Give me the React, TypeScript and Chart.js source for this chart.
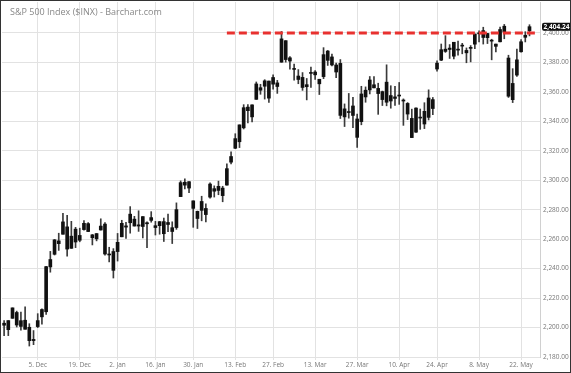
import { useEffect, useRef } from 'react';
import { Chart, registerables } from 'chart.js';

Chart.register(...registerables);

// ---- data ----
const dates = [
  '2016-11-22','2016-11-23','2016-11-25','2016-11-28','2016-11-29','2016-11-30','2016-12-01','2016-12-02',
  '2016-12-05','2016-12-06','2016-12-07','2016-12-08','2016-12-09','2016-12-12','2016-12-13','2016-12-14',
  '2016-12-15','2016-12-16','2016-12-19','2016-12-20','2016-12-21','2016-12-22','2016-12-23','2016-12-27',
  '2016-12-28','2016-12-29','2016-12-30','2017-01-03','2017-01-04','2017-01-05','2017-01-06','2017-01-09',
  '2017-01-10','2017-01-11','2017-01-12','2017-01-13','2017-01-17','2017-01-18','2017-01-19','2017-01-20',
  '2017-01-23','2017-01-24','2017-01-25','2017-01-26','2017-01-27','2017-01-30','2017-01-31','2017-02-01',
  '2017-02-02','2017-02-03','2017-02-06','2017-02-07','2017-02-08','2017-02-09','2017-02-10','2017-02-13',
  '2017-02-14','2017-02-15','2017-02-16','2017-02-17','2017-02-21','2017-02-22','2017-02-23','2017-02-24',
  '2017-02-27','2017-02-28','2017-03-01','2017-03-02','2017-03-03','2017-03-06','2017-03-07','2017-03-08',
  '2017-03-09','2017-03-10','2017-03-13','2017-03-14','2017-03-15','2017-03-16','2017-03-17','2017-03-20',
  '2017-03-21','2017-03-22','2017-03-23','2017-03-24','2017-03-27','2017-03-28','2017-03-29','2017-03-30',
  '2017-03-31','2017-04-03','2017-04-04','2017-04-05','2017-04-06','2017-04-07','2017-04-10','2017-04-11',
  '2017-04-12','2017-04-13','2017-04-17','2017-04-18','2017-04-19','2017-04-20','2017-04-21','2017-04-24',
  '2017-04-25','2017-04-26','2017-04-27','2017-04-28','2017-05-01','2017-05-02','2017-05-03','2017-05-04',
  '2017-05-05','2017-05-08','2017-05-09','2017-05-10','2017-05-11','2017-05-12','2017-05-15','2017-05-16',
  '2017-05-17','2017-05-18','2017-05-19','2017-05-22','2017-05-23','2017-05-24',
];

const opens = [
  2201.56,2198.55,2206.27,2210.21,2200.76,2204.97,2200.17,2191.12,
  2200.65,2207.26,2210.72,2241.13,2249.73,2258.83,2263.32,2268.35,
  2253.77,2266.81,2259.24,2266.50,2270.54,2262.93,2260.25,2266.23,
  2270.23,2249.50,2251.61,2251.57,2261.60,2268.18,2271.14,2273.59,
  2269.72,2268.60,2271.14,2272.74,2269.14,2269.14,2271.90,2269.96,
  2267.78,2267.88,2288.88,2298.63,2299.02,2286.01,2274.02,2285.59,
  2276.69,2288.54,2294.28,2295.87,2289.55,2296.70,2312.27,2321.72,
  2326.12,2335.58,2349.64,2343.01,2354.91,2361.11,2367.50,2355.73,
  2365.23,2366.08,2380.13,2394.75,2380.92,2375.23,2370.74,2369.81,
  2363.49,2372.52,2371.56,2368.55,2370.34,2387.71,2383.71,2378.24,
  2379.32,2343.00,2345.97,2350.42,2329.11,2339.79,2356.54,2361.31,
  2364.82,2362.34,2354.76,2366.59,2353.79,2356.59,2357.16,2353.92,
  2352.15,2341.98,2332.62,2342.53,2346.79,2342.69,2354.74,2375.50,
  2381.51,2388.98,2389.70,2393.68,2388.50,2391.05,2386.50,2389.79,
  2392.37,2399.94,2401.58,2396.79,2394.84,2392.44,2393.98,2404.55,
  2382.95,2354.69,2371.37,2387.21,2397.04,2401.41,
];

const highs = [
  2204.80,2204.72,2213.35,2211.14,2210.46,2214.10,2202.60,2197.95,
  2209.42,2212.78,2241.63,2251.69,2259.80,2264.03,2277.53,2276.20,
  2272.12,2268.05,2267.47,2272.56,2271.23,2263.18,2263.79,2273.82,
  2271.31,2254.51,2253.58,2263.88,2272.82,2271.50,2282.10,2275.49,
  2279.27,2275.32,2271.78,2278.68,2272.08,2272.01,2274.33,2276.96,
  2271.78,2284.63,2299.55,2300.99,2299.02,2286.01,2279.09,2289.14,
  2283.97,2298.31,2296.18,2299.40,2295.91,2311.08,2319.23,2331.58,
  2337.58,2351.30,2351.31,2351.16,2366.71,2365.13,2368.26,2367.34,
  2371.54,2367.79,2400.98,2394.75,2383.89,2378.80,2375.12,2373.09,
  2369.08,2376.86,2374.42,2368.55,2390.01,2388.10,2385.71,2379.55,
  2381.93,2351.81,2358.92,2356.22,2344.90,2363.78,2363.36,2370.42,
  2370.35,2365.87,2360.53,2378.36,2364.16,2363.76,2366.37,2355.22,
  2352.72,2348.26,2349.14,2348.35,2352.63,2361.37,2356.18,2381.00,
  2392.48,2398.16,2392.10,2393.68,2394.49,2392.93,2389.82,2391.43,
  2399.29,2401.36,2403.87,2399.74,2395.72,2392.44,2404.05,2405.77,
  2384.87,2375.74,2389.06,2395.46,2400.85,2405.58,
];

const lows = [
  2194.51,2194.51,2206.27,2200.36,2198.15,2198.81,2187.44,2188.37,
  2199.97,2202.21,2208.93,2237.57,2249.23,2252.37,2263.32,2248.44,
  2253.77,2254.24,2258.21,2266.14,2265.15,2256.08,2258.84,2266.15,
  2249.11,2244.56,2233.62,2245.13,2261.60,2260.45,2264.06,2268.90,
  2265.27,2260.83,2254.25,2271.51,2262.81,2263.35,2258.41,2265.01,
  2257.02,2266.68,2288.88,2294.08,2291.62,2268.04,2267.21,2272.44,
  2271.65,2287.88,2288.57,2290.16,2285.38,2296.61,2311.10,2321.42,
  2322.17,2334.81,2338.87,2339.58,2354.91,2358.34,2355.09,2352.87,
  2361.87,2358.96,2380.13,2380.17,2375.39,2367.98,2365.51,2361.01,
  2354.54,2363.04,2368.52,2358.18,2368.94,2377.94,2377.64,2369.66,
  2341.90,2336.45,2342.13,2335.74,2322.25,2337.63,2352.94,2358.58,
  2362.60,2344.73,2350.72,2350.52,2348.90,2350.74,2351.50,2337.25,
  2341.18,2328.95,2332.51,2334.54,2335.05,2340.91,2344.51,2374.00,
  2381.15,2386.78,2382.68,2382.36,2384.83,2385.82,2379.75,2380.35,
  2389.38,2393.92,2392.44,2392.79,2381.74,2387.19,2393.94,2396.05,
  2356.21,2352.72,2370.43,2386.92,2393.88,2397.99,
];

const closes = [
  2202.94,2204.72,2213.35,2201.72,2204.66,2198.81,2191.08,2191.95,
  2204.71,2212.23,2241.35,2246.19,2259.53,2256.96,2271.72,2253.28,
  2262.03,2258.07,2262.53,2270.76,2265.18,2260.96,2263.79,2268.88,
  2249.92,2249.26,2238.83,2257.83,2270.75,2269.00,2276.98,2268.90,
  2268.90,2275.32,2270.44,2274.64,2267.89,2271.89,2263.69,2271.31,
  2265.20,2280.07,2298.37,2296.68,2294.69,2280.90,2278.87,2279.55,
  2280.85,2297.42,2292.56,2293.08,2294.67,2307.87,2316.10,2328.25,
  2337.58,2349.25,2347.22,2351.16,2365.38,2362.82,2363.81,2367.34,
  2369.75,2363.64,2395.96,2381.92,2383.12,2375.31,2368.39,2362.98,
  2364.87,2372.60,2373.47,2365.45,2385.26,2381.38,2378.25,2373.47,
  2344.02,2348.45,2345.96,2343.98,2341.59,2358.57,2361.13,2368.06,
  2362.72,2358.84,2360.16,2352.95,2357.49,2355.54,2357.16,2353.78,
  2344.93,2328.95,2349.01,2342.19,2338.17,2355.84,2348.69,2379.50,
  2388.61,2387.45,2388.77,2384.20,2388.33,2391.17,2388.13,2389.52,
  2399.29,2399.38,2396.92,2399.63,2394.44,2390.90,2402.32,2400.67,
  2357.03,2365.72,2381.73,2394.02,2398.42,2404.24,
];

const tickDates = [
  '2016-12-05','2016-12-19','2017-01-03','2017-01-17','2017-01-30','2017-02-13','2017-02-27',
  '2017-03-13','2017-03-27','2017-04-10','2017-04-24','2017-05-08','2017-05-22',
];
const tickTexts = [
  '5. Dec','19. Dec','2. Jan','16. Jan','30. Jan','13. Feb','27. Feb',
  '13. Mar','27. Mar','10. Apr','24. Apr','8. May','22. May',
];

const resistanceLevel = 2400;
const resistanceFrom = '2017-02-09';
const lastPrice = 2404.24;
const yMin = 2180;
const yMax = 2421;
const yStep = 20;
const trailingSlots = ['', ''];

const titleText = 'S&P 500 Index ($INX) - Barchart.com';

const fmt = (v: number) =>
  v.toLocaleString('en-US', { minimumFractionDigits: 2, maximumFractionDigits: 2 });

export default function App() {
  const canvasRef = useRef<HTMLCanvasElement | null>(null);

  useEffect(() => {
    document.body.style.margin = '0';
    const canvas = canvasRef.current;
    if (!canvas) return;

    const labels = [...dates, ...trailingSlots];
    const tickMap: Record<number, string> = {};
    tickDates.forEach((d, i) => {
      const idx = dates.indexOf(d);
      if (idx >= 0) tickMap[idx] = tickTexts[i];
    });
    const startIdx = dates.indexOf(resistanceFrom);
    const resistance = labels.map((_, i) => (i >= startIdx ? resistanceLevel : null));
    const wicks = dates.map((_, i) => [lows[i], highs[i]]);
    const bodies = dates.map((_, i) => [Math.min(opens[i], closes[i]), Math.max(opens[i], closes[i])]);

    const badgePlugin = {
      id: 'lastPriceBadge',
      afterDraw(chart: any) {
        const { ctx, chartArea, scales } = chart;
        const y = scales.y.getPixelForValue(lastPrice);
        const x0 = chartArea.right + 2;
        const w = chart.width - x0 + 4;
        const h = 8;
        ctx.save();
        ctx.fillStyle = '#111';
        ctx.beginPath();
        if (ctx.roundRect) ctx.roundRect(x0, y - h / 2, w, h, 2);
        else ctx.rect(x0, y - h / 2, w, h);
        ctx.fill();
        ctx.fillStyle = '#fff';
        ctx.font = 'bold 6.5px "Open Sans", sans-serif';
        ctx.textBaseline = 'middle';
        ctx.textAlign = 'left';
        ctx.fillText(fmt(lastPrice), x0 + 1.5, y + 0.5);
        ctx.restore();
      },
    };

    Chart.defaults.font.family = '"Open Sans", sans-serif';

    const chart = new Chart(canvas, {
      type: 'bar',
      data: {
        labels,
        datasets: [
          {
            type: 'line',
            data: resistance as any,
            borderColor: '#e8312f',
            borderWidth: 3,
            borderDash: [8, 4],
            pointRadius: 0,
            fill: false,
            order: 0,
          } as any,
          {
            type: 'bar',
            data: bodies as any,
            backgroundColor: '#111',
            barThickness: 3,
            minBarLength: 1,
            grouped: false,
            order: 1,
          } as any,
          {
            type: 'bar',
            data: wicks as any,
            backgroundColor: '#3a3a3a',
            barThickness: 1,
            grouped: false,
            order: 2,
          } as any,
        ],
      },
      plugins: [badgePlugin],
      options: {
        animation: false,
        responsive: true,
        maintainAspectRatio: false,
        events: [],
        layout: { padding: { left: 1, top: 1, right: 0, bottom: 0 } },
        plugins: {
          legend: { display: false },
          tooltip: { enabled: false },
          title: { display: false },
        },
        scales: {
          x: {
            type: 'category',
            offset: true,
            grid: {
              offset: false,
              tickLength: 3,
              color: (c: any) => (tickMap[c.index] !== undefined ? '#e2e2e2' : 'rgba(0,0,0,0)'),
            },
            border: { display: false },
            ticks: {
              autoSkip: false,
              maxRotation: 0,
              minRotation: 0,
              padding: 1,
              color: '#777',
              font: { size: 6.5 },
              callback: (_v: any, i: number) => tickMap[i] ?? '',
            },
            afterFit: (s: any) => {
              s.height = 15;
              s.paddingLeft = 0;
              s.paddingRight = 0;
            },
          },
          y: {
            position: 'right',
            min: yMin,
            max: yMax,
            afterBuildTicks: (axis: any) => {
              axis.ticks = axis.ticks.filter((t: any) => t.value <= resistanceLevel);
            },
            ticks: {
              stepSize: yStep,
              padding: 3,
              color: '#777',
              font: { size: 6.5 },
              callback: (v: any) => fmt(Number(v)),
            },
            grid: { color: '#e2e2e2', drawTicks: false, tickLength: 0 },
            border: { display: true, color: '#d0d0d0' },
            afterFit: (s: any) => {
              s.width = 30;
              s.paddingTop = 0;
              s.paddingBottom = 0;
            },
          },
        },
      },
    });

    return () => chart.destroy();
  }, []);

  return (
    <div
      style={{
        position: 'fixed',
        left: 0,
        top: 0,
        width: 571,
        height: 373,
        boxSizing: 'border-box',
        border: '1px solid #333',
        background: '#fff',
      }}
    >
      <div style={{ position: 'relative', width: 569, height: 371 }}>
        <canvas ref={canvasRef} />
        <div
          style={{
            position: 'absolute',
            left: 9,
            top: 5,
            font: '9px "Open Sans", sans-serif',
            lineHeight: '12px',
            color: '#888',
            whiteSpace: 'nowrap',
            pointerEvents: 'none',
          }}
        >
          {titleText}
        </div>
      </div>
    </div>
  );
}
